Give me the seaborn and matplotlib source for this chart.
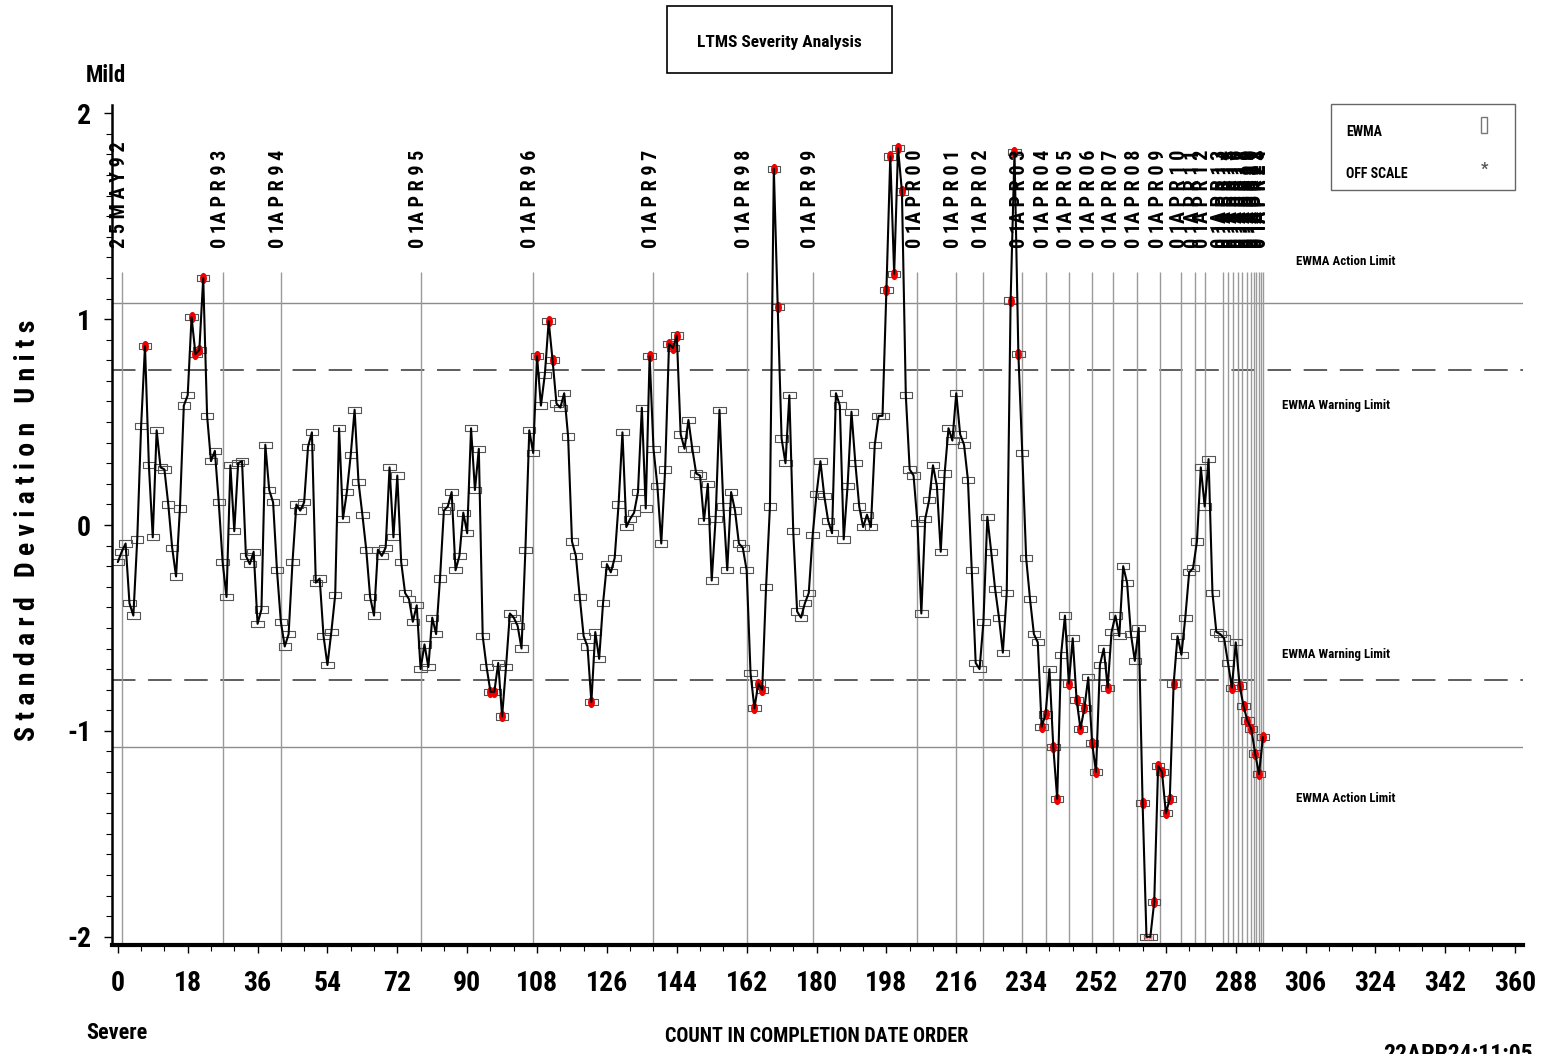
import numpy as np
import pandas as pd
import matplotlib
matplotlib.use("Agg")
import matplotlib.pyplot as plt
from matplotlib.patches import Rectangle
from matplotlib.ticker import MultipleLocator
import seaborn as sns

# EWMA values in completion date order (count = position)
ewma = [
    -0.18, -0.13, -0.09, -0.38, -0.44, -0.07, 0.48, 0.87, 0.29, -0.06, 0.46,
    0.28, 0.27, 0.10, -0.11, -0.25, 0.08, 0.58, 0.63, 1.01, 0.83,
    0.85, 1.20, 0.53, 0.31, 0.36, 0.11, -0.18, -0.35, 0.29, -0.03,
    0.30, 0.31, -0.15, -0.19, -0.13, -0.48, -0.41, 0.39, 0.17, 0.11,
    -0.22, -0.47,
    -0.59, -0.53, -0.18, 0.10, 0.07, 0.11, 0.38, 0.45, -0.28, -0.26,
    -0.54, -0.68, -0.52, -0.34, 0.47, 0.03, 0.16, 0.34, 0.56, 0.21,
    0.05, -0.12, -0.35, -0.44, -0.12, -0.15, -0.11, 0.28, -0.06, 0.24,
    -0.18, -0.33, -0.36, -0.47, -0.39, -0.70, -0.58, -0.69, -0.45, -0.53,
    -0.26, 0.07, 0.09, 0.16,
    -0.22, -0.15, 0.06, -0.04, 0.47, 0.17, 0.37, -0.54, -0.69, -0.81,
    -0.81, -0.67, -0.93, -0.69, -0.43, -0.45, -0.49, -0.60, -0.12, 0.46,
    0.35, 0.82, 0.58, 0.73, 0.99, 0.80, 0.59, 0.57, 0.64, 0.43,
    -0.08, -0.15, -0.35, -0.54, -0.59, -0.86, -0.52, -0.65, -0.38, -0.19,
    -0.23, -0.16, 0.10,
    0.45, -0.01, 0.03, 0.06, 0.16, 0.57, 0.08, 0.82, 0.37, 0.19,
    -0.09, 0.27, 0.88, 0.86, 0.92, 0.44, 0.37, 0.51, 0.37, 0.25,
    0.24, 0.02, 0.20, -0.27, 0.03, 0.56, 0.09, -0.22, 0.16, 0.07,
    -0.09, -0.11, -0.22, -0.72, -0.89, -0.77, -0.80, -0.30, 0.09, 1.73,
    1.06,
    0.42, 0.30, 0.63, -0.03, -0.42, -0.45, -0.38, -0.33, -0.05, 0.15,
    0.31, 0.14, 0.02, -0.04, 0.64, 0.58, -0.07, 0.19, 0.55, 0.30,
    0.09, -0.01, 0.05, -0.01, 0.39, 0.53, 0.53, 1.14, 1.79, 1.22,
    1.83, 1.62, 0.63, 0.27, 0.24, 0.01, -0.43, 0.03, 0.12, 0.29,
    0.19, -0.13, 0.25, 0.47, 0.41, 0.64, 0.44, 0.39, 0.22, -0.22,
    -0.67, -0.70, -0.47, 0.04, -0.13, -0.31, -0.45, -0.62, -0.33, 1.09,
    1.81, 0.83, 0.35, -0.16, -0.36, -0.53, -0.57, -0.98, -0.92, -0.70,
    -1.08, -1.33, -0.63, -0.44, -0.77, -0.55, -0.85, -0.99, -0.89, -0.74,
    -1.06, -1.20, -0.68, -0.60, -0.79, -0.52, -0.44, -0.54, -0.20, -0.28,
    -0.53, -0.66, -0.50, -1.35, -2.00, -2.00, -1.83, -1.17, -1.20, -1.40,
    -1.33, -0.77, -0.54, -0.63, -0.45, -0.23, -0.21, -0.08, 0.28, 0.09,
    0.32, -0.33, -0.52, -0.53, -0.55, -0.67, -0.79, -0.57, -0.78, -0.88,
    -0.95, -0.99, -1.11, -1.21, -1.03,
]

# calibration dates (count where each new year starts)
date_pos = [1, 27, 42, 78, 107, 138, 162, 179, 206, 216, 223, 233, 239, 245,
            251, 256.5, 262.5, 268.6, 274, 277.6, 280, 284.6, 286, 287.4,
            288.7, 289.7, 290.8, 291.8, 292.6, 293.3, 293.9, 294.6, 295.1]
date_lbl = ["2 5 M A Y 9 2"] + ["0 1A P R %s %s" % (y[0], y[1]) for y in
            ["93", "94", "95", "96", "97", "98", "99", "00", "01", "02", "03",
             "04", "05", "06", "07", "08", "09", "10", "11", "12", "13", "14",
             "15", "16", "17", "18", "19", "20", "21", "22", "23", "24"]]

action_limit = 1.08
warning_limit = 0.755

sns.set_style("ticks")
FONT = ['Roboto Condensed', 'Liberation Sans', 'DejaVu Sans']
plt.rcParams['font.family'] = FONT
plt.rcParams['font.weight'] = 'bold'
for k in ['text.color', 'axes.labelcolor', 'xtick.color', 'ytick.color', 'axes.edgecolor']:
    plt.rcParams[k] = 'black'

W, H = 1541, 1054
fig = plt.figure(figsize=(W / 100, H / 100), dpi=100)
ax = fig.add_axes([112 / W, 1 - 945 / H, (1523 - 112) / W, (945 - 105) / H])

df = pd.DataFrame({'count': np.arange(len(ewma)), 'ewma': ewma})
df['ewma'] = df['ewma'].clip(-2, 2)
red = df[(df['ewma'].abs() > warning_limit) & (df['ewma'].abs() < 2)]
off = df[df['ewma'].abs() >= 2]

# limit lines
for s in (1, -1):
    ax.axhline(s * action_limit, color='#8c8c8c', lw=1, zorder=1)
    ax.axhline(s * warning_limit, color='#505050', lw=1.3, ls=(0, (13, 7)), zorder=1)
ax.vlines(date_pos, -2.05, 1.23, color='#9a9a9a', lw=1, zorder=1)

box = [(-1, -0.5), (1, -0.5), (1, 0.5), (-1, 0.5), (-1, -0.5)]
t = np.linspace(0, 2 * np.pi, 25)
oval = list(zip(0.62 * np.cos(t), np.sin(t)))
sns.scatterplot(data=df, x='count', y='ewma', marker=box, s=80, facecolor='none',
                edgecolor='#555555', linewidth=0.8, ax=ax, zorder=2)
sns.scatterplot(data=red, x='count', y='ewma', marker=oval, s=65, color='#ee0000',
                edgecolor='#ee0000', linewidth=0, ax=ax, zorder=3)
sns.scatterplot(data=off, x='count', y='ewma', marker='*', s=30, color='#ff8080',
                linewidth=0, ax=ax, zorder=3)
sns.lineplot(data=df, x='count', y='ewma', color='black', lw=1.5, ax=ax, zorder=4)

ax.set_xlim(-1.5, 362)
ax.set_ylim(-2.04, 2.04)
ax.xaxis.set_major_locator(MultipleLocator(18))
ax.xaxis.set_minor_locator(MultipleLocator(6))
ax.yaxis.set_minor_locator(MultipleLocator(0.1))
ax.set_yticks([-2, -1, 0, 1, 2])
ax.set_yticklabels(['-2', '-1', '0', '1', '2'])
ax.tick_params(axis='both', which='major', length=6, width=1, labelsize=20)
ax.tick_params(axis='both', which='minor', length=4, width=0.8)
ax.tick_params(axis='x', pad=12)
ax.tick_params(axis='y', pad=9)
sns.despine(ax=ax, top=True, right=True)
ax.spines['left'].set_linewidth(1.8)
ax.spines['bottom'].set_linewidth(3)
ax.set_xlabel('')
ax.set_ylabel('')

# date labels above the vertical lines
for p, lab in zip(date_pos, date_lbl):
    ax.text(p - 0.6, 1.345, lab, rotation=90, ha='center', va='bottom',
            fontsize=14.5, fontweight='bold')

# limit annotations
ax.text(303.5, 1.28, 'EWMA Action Limit', fontsize=9.3, va='center')
ax.text(300, 0.58, 'EWMA Warning Limit', fontsize=9.3, va='center')
ax.text(300, -0.63, 'EWMA Warning Limit', fontsize=9.3, va='center')
ax.text(303.5, -1.33, 'EWMA Action Limit', fontsize=9.3, va='center')

# title box
fig.patches.append(Rectangle((667 / W, 1 - 73 / H), 225 / W, 67 / H, transform=fig.transFigure,
                             fill=False, edgecolor='black', lw=1.2))
fig.text(779 / W, 1 - 42 / H, 'LTMS Severity Analysis', ha='center', va='center', fontsize=12.5)

# legend box
fig.patches.append(Rectangle((1331 / W, 1 - 190 / H), 184 / W, 86 / H, transform=fig.transFigure,
                             fill=False, edgecolor='#666666', lw=1))
fig.text(1346 / W, 1 - 132 / H, 'EWMA', va='center', fontsize=10)
fig.text(1346 / W, 1 - 174 / H, 'OFF SCALE', va='center', fontsize=10)
fig.patches.append(Rectangle((1481 / W, 1 - 133 / H), 6 / W, 16 / H, transform=fig.transFigure,
                             fill=False, edgecolor='#777777', lw=1))
fig.text(1485 / W, 1 - 169 / H, '*', ha='center', va='center', fontsize=12, color='#555555')

fig.text(106 / W, 1 - 75 / H, 'Mild', ha='center', va='center', fontsize=16.5)
fig.text(117 / W, 1 - 1033 / H, 'Severe', ha='center', va='center', fontsize=16)
fig.text(817 / W, 1 - 1037 / H, 'COUNT IN COMPLETION DATE ORDER', ha='center', va='center', fontsize=14.5)
fig.text(1383 / W, 1 - 1043 / H, '22APR24:11:05', ha='left', va='top', fontsize=17)
fig.text(28 / W, 1 - 530 / H, 'S t a n d a r d   D e v i a t i o n   U n i t s', rotation=90,
         ha='center', va='center', fontsize=20)

fig.savefig('out.png', dpi=100)
